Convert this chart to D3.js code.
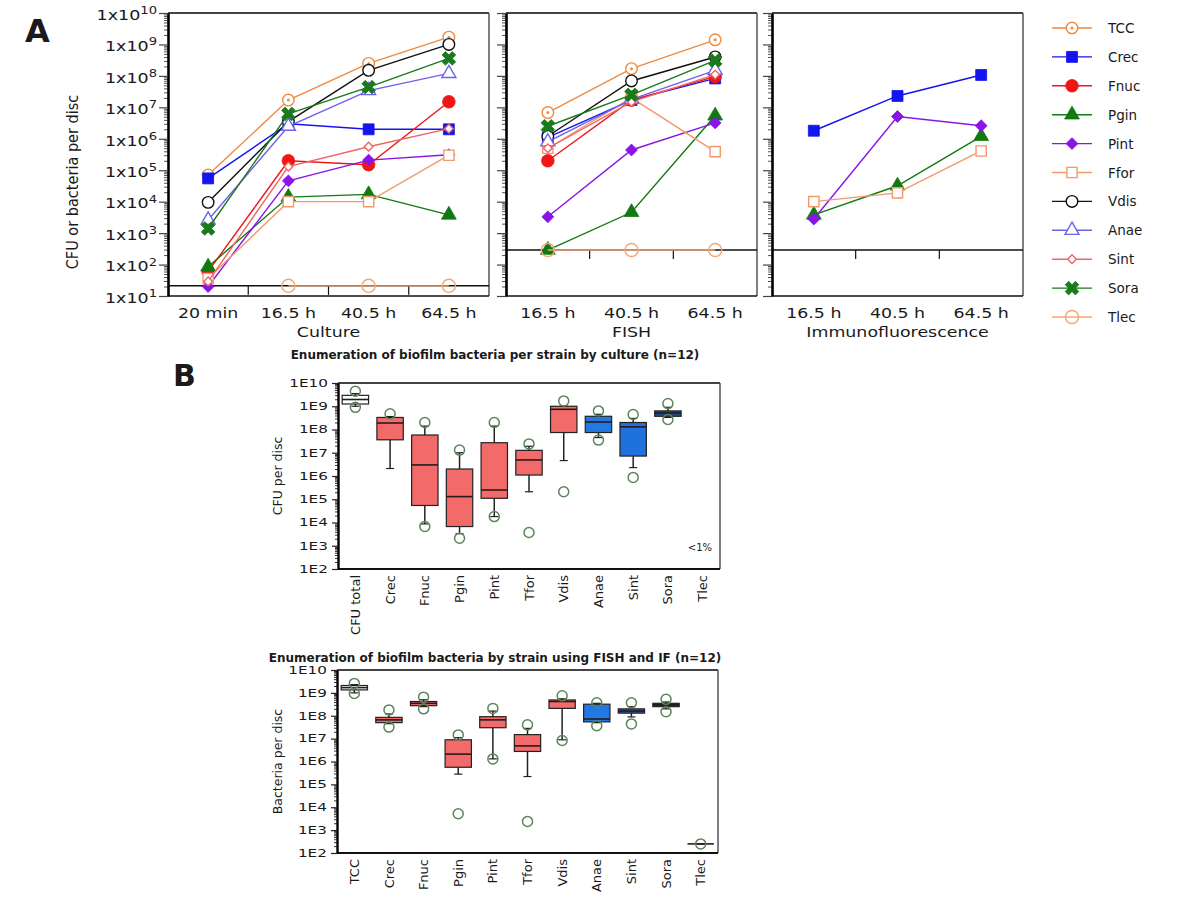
<!DOCTYPE html>
<html>
<head>
<meta charset="utf-8">
<script src="https://cdn.jsdelivr.net/npm/d3@7"></script>
<style>
  body { margin: 0; background: #fff; }
  svg { display: block; }
  text { font-family: 'DejaVu Sans', sans-serif; fill: #1a1a1a; }
</style>
</head>
<body>
<svg id="chart" width="1200" height="900"></svg>
<script>
// ---------- data, panel A ----------
const strains = ['TCC', 'Crec', 'Fnuc', 'Pgin', 'Pint', 'Ffor', 'Vdis', 'Anae', 'Sint', 'Sora', 'Tlec'];
const cultureTimes = ['20 min', '16.5 h', '40.5 h', '64.5 h'];
const laterTimes = ['16.5 h', '40.5 h', '64.5 h'];
const panelNames = ['Culture', 'FISH', 'Immunofluorescence'];

const cultureValues = {
  TCC:  [7e4, 1.7e7, 2.5e8, 1.7e9],
  Crec: [5.5e4, 3e6, 2e6, 2e6],
  Fnuc: [60, 2e5, 1.5e5, 1.5e7],
  Pgin: [85, 1.4e4, 1.7e4, 3.8e3],
  Pint: [20, 4.6e4, 2.1e5, 3.1e5],
  Ffor: [36, 1e4, 1e4, 3e5],
  Vdis: [9.5e3, 3.5e6, 1.5e8, 1e9],
  Anae: [2.6e3, 2.5e6, 3.4e7, 1.2e8],
  Sint: [29, 1.3e5, 5.6e5, 2.1e6],
  Sora: [1.4e3, 6.2e6, 4.4e7, 3.6e8],
  Tlec: [null, 21, 21, 21]
};

const fishValues = {
  TCC:  [6.8e6, 1.7e8, 1.4e9],
  Crec: [1.1e6, 1.7e7, 8.3e7],
  Fnuc: [2e5, 1.7e7, 9.5e7],
  Pgin: [290, 4.6e3, 5.4e6],
  Pint: [3.3e3, 4.4e5, 3.2e6],
  Ffor: [5e5, 2e7, 3.9e5],
  Vdis: [1.2e6, 6.9e7, 4e8],
  Anae: [8e5, 1.8e7, 1.5e8],
  Sint: [5e5, 1.5e7, 1.1e8],
  Sora: [2.5e6, 2.5e7, 3.1e8],
  Tlec: [290, 290, 290]
};

const ifValues = {
  Crec: [1.8e6, 2.3e7, 1.07e8],
  Pgin: [3.8e3, 3.2e4, 1.2e6],
  Pint: [2.8e3, 5.1e6, 2.6e6],
  Ffor: [1e4, 1.9e4, 4.1e5]
};

const detectionLimit = [21, 290, 290];

// ---------- data, panel B ----------
// stats are [low whisker, q1, median, q3, high whisker]
const cultureBoxLabels = ['CFU total', 'Crec', 'Fnuc', 'Pgin', 'Pint', 'Tfor', 'Vdis', 'Anae', 'Sint', 'Sora', 'Tlec'];
const cultureBoxStats = [
  [1.0e9, 1.25e9, 1.95e9, 2.95e9, 3.5e9],
  [2.1e6, 3.6e7, 1.9e8, 3.3e8, 3.6e8],
  [8.7e3, 5.4e4, 3.0e6, 5.8e7, 1.4e8],
  [3.3e3, 6.7e3, 1.3e5, 2.0e6, 1.0e7],
  [1.8e4, 1.1e5, 2.5e5, 2.7e7, 1.4e8],
  [2.1e5, 1.1e6, 4.9e6, 1.27e7, 1.9e7],
  [4.6e6, 7.4e7, 7.4e8, 1.0e9, 1.0e9],
  [4.5e7, 7.4e7, 2.1e8, 3.7e8, 4.5e8],
  [2.3e6, 7.2e6, 1.3e8, 2.0e8, 3.0e8],
  [3.3e8, 3.7e8, 5.1e8, 6.3e8, 9e8],
  null
];
const cultureBoxOutliers = [
  [4.4e9, 9e8], [4.7e8], [2.0e8, 6.7e3], [1.3e7, 2.1e3], [2.0e8, 1.8e4],
  [2.4e7, 3.7e3], [1.7e9, 2.1e5], [6.3e8, 3.5e7], [4.4e8, 8.7e5], [1.3e9, 2.7e8], []
];

const fishBoxLabels = ['TCC', 'Crec', 'Fnuc', 'Pgin', 'Pint', 'Tfor', 'Vdis', 'Anae', 'Sint', 'Sora', 'Tlec'];
const fishBoxStats = [
  [1.0e9, 1.35e9, 1.7e9, 2.1e9, 2.3e9],
  [4.5e7, 5.0e7, 6.6e7, 8.5e7, 1.2e8],
  [2.5e8, 2.75e8, 3.5e8, 4.2e8, 5e8],
  [2.8e5, 5.6e5, 2.1e6, 8.9e6, 1.1e7],
  [1.3e6, 3.0e7, 6.6e7, 9.1e7, 1.6e8],
  [2.2e5, 2.75e6, 4.8e6, 1.5e7, 2.8e7],
  [8.9e6, 2.1e8, 4.2e8, 4.9e8, 5.5e8],
  [5e7, 5.4e7, 7.2e7, 3.2e8, 3.5e8],
  [8.9e7, 1.3e8, 1.6e8, 2.0e8, 2.5e8],
  [2e8, 2.5e8, 3.0e8, 3.5e8, 4e8],
  [250, 250, 250, 250, 250]
];
const fishBoxOutliers = [
  [2.6e9, 9.5e8], [1.8e8, 3.2e7], [6.5e8, 2.0e8], [1.45e7, 5.2e3], [2.1e8, 1.3e6],
  [4.0e7, 2.4e3], [7.4e8, 8.3e6], [3.7e8, 3.7e7], [3.7e8, 4.4e7], [5.2e8, 1.5e8], [250]
];

// ---------- styles ----------
const seriesStyle = {
  TCC:  { color: '#ef8a3e', type: d3.symbolCircle,   size: 105, open: true, dot: true },
  Crec: { color: '#1414f0', type: d3.symbolSquare,   size: 120 },
  Fnuc: { color: '#f01616', type: d3.symbolCircle,   size: 125 },
  Pgin: { color: '#127812', type: d3.symbolTriangle, size: 95 },
  Pint: { color: '#8a14e6', type: d3.symbolSquare,   size: 70, rotate: 45 },
  Ffor: { color: '#f2996a', type: d3.symbolSquare,   size: 105, open: true },
  Vdis: { color: '#111111', type: d3.symbolCircle,   size: 105, open: true },
  Anae: { color: '#6c62ee', type: d3.symbolTriangle, size: 85, open: true },
  Sint: { color: '#f06464', type: d3.symbolSquare,   size: 38, rotate: 45, open: true },
  Sora: { color: '#1b7a1b', type: d3.symbolCross,    size: 115, rotate: 45 },
  Tlec: { color: '#f3a676', type: d3.symbolCircle,   size: 135, open: true, hollow: true }
};

const boxFillCulture = { 'CFU total': '#ffffff', Anae: '#2379e4', Sint: '#1f72de', Sora: '#284c86' };
const boxFillFish = { TCC: '#ffffff', Anae: '#1f7ae6', Sint: '#2a5caa', Sora: '#1d3b5c' };
const boxRed = '#f26a6a';

const svg = d3.select('#chart');

// text that the source squeezes wider than the font
function place(sel, x, y, sx, rot) {
  sel.attr('transform', `translate(${x},${y}) scale(${sx},1)` + (rot ? ` rotate(${rot})` : ''));
  return sel;
}

function decades(lo, hi) {
  return d3.range(Math.log10(lo), Math.log10(hi) + 1).map(e => Math.pow(10, e));
}
function minors(lo, hi) {
  let out = [];
  decades(lo, hi / 10).forEach(d => { for (let k = 2; k < 10; k++) out.push(d * k); });
  return out;
}

function drawMarker(g, name, x, y) {
  const s = seriesStyle[name];
  const m = g.append('path')
    .attr('d', d3.symbol().type(s.type).size(s.size)())
    .attr('transform', `translate(${x},${y})` + (s.rotate ? ` rotate(${s.rotate})` : ''))
    .attr('fill', s.open ? (s.hollow ? 'none' : '#fff') : s.color)
    .attr('stroke', s.color)
    .attr('stroke-width', s.open ? 1.4 : 0.8);
  if (s.dot) {
    g.append('circle').attr('cx', x).attr('cy', y).attr('r', 1.5).attr('fill', s.color);
  }
  return m;
}

// ---------- panel A ----------
const yA = d3.scaleLog().domain([10, 1e10]).range([296, 13]);

const panelsA = [
  { name: panelNames[0], x0: 168, x1: 489, times: cultureTimes, values: cultureValues, limit: detectionLimit[0], labels: true },
  { name: panelNames[1], x0: 506, x1: 757, times: laterTimes, values: fishValues, limit: detectionLimit[1] },
  { name: panelNames[2], x0: 772, x1: 1023, times: laterTimes, values: ifValues, limit: detectionLimit[2] }
];

panelsA.forEach(p => {
  const g = svg.append('g').attr('class', 'panelA');
  const x = d3.scalePoint().domain(p.times).range([p.x0, p.x1]).padding(0.5);

  // frame
  g.append('line').attr('x1', p.x0).attr('x2', p.x1).attr('y1', yA(1e10)).attr('y2', yA(1e10))
    .attr('stroke', '#444').attr('stroke-width', 2);
  g.append('line').attr('x1', p.x1).attr('x2', p.x1).attr('y1', yA(1e10)).attr('y2', yA(10))
    .attr('stroke', '#555').attr('stroke-width', 1.5);
  g.append('line').attr('x1', p.x0).attr('x2', p.x1).attr('y1', yA(10)).attr('y2', yA(10))
    .attr('stroke', '#111').attr('stroke-width', 1.5);

  // detection line, used as x axis
  const yl = yA(p.limit);
  g.append('line').attr('x1', p.x0).attr('x2', p.x1).attr('y1', yl).attr('y2', yl)
    .attr('stroke', '#111').attr('stroke-width', 1.5);
  p.times.slice(0, -1).forEach(t => {
    const xt = x(t) + x.step() / 2;
    g.append('line').attr('x1', xt).attr('x2', xt).attr('y1', yl).attr('y2', yl + 9)
      .attr('stroke', '#111').attr('stroke-width', 1.2);
  });

  // y axis
  const minorAxis = g.append('g').attr('transform', `translate(${p.x0},0)`)
    .call(d3.axisLeft(yA).tickValues(minors(10, 1e10)).tickSize(4).tickSizeOuter(0).tickFormat(''));
  minorAxis.select('.domain').remove();
  minorAxis.selectAll('.tick line').attr('stroke', '#555');

  const majorAxis = g.append('g').attr('transform', `translate(${p.x0},0)`)
    .call(d3.axisLeft(yA).tickValues(decades(10, 1e10)).tickSize(9).tickSizeOuter(0)
      .tickFormat(p.labels ? () => '1x10' : ''));
  majorAxis.select('.domain').attr('stroke', '#000').attr('stroke-width', 2.6);
  majorAxis.selectAll('.tick line').attr('stroke', '#444').attr('stroke-width', 1.2);
  if (p.labels) {
    majorAxis.attr('font-family', "'DejaVu Sans', sans-serif").attr('font-size', 14);
    majorAxis.selectAll('.tick text').attr('fill', '#1a1a1a').attr('dy', '0.45em')
      .attr('x', -11 / 1.25).attr('transform', 'scale(1.25,1)')
      .each(function(d) {
        d3.select(this).append('tspan')
          .attr('dy', '-0.55em')
          .attr('font-size', 10.5)
          .text(Math.round(Math.log10(d)));
      });
  }

  // x labels
  p.times.forEach(t => {
    place(g.append('text').attr('text-anchor', 'middle').attr('font-size', 14.5).text(t), x(t), 318, 1.2);
  });
  place(g.append('text').attr('text-anchor', 'middle').attr('font-size', 14.5).text(p.name),
    (p.x0 + p.x1) / 2, 337, 1.2);

  // series
  const line = d3.line().defined(d => d[1] != null).x(d => x(d[0])).y(d => yA(d[1]));
  strains.forEach(name => {
    const vals = p.values[name];
    if (!vals) return;
    const pts = p.times.map((t, i) => [t, vals[i]]);
    const s = seriesStyle[name];
    g.append('path').datum(pts).attr('d', line)
      .attr('fill', 'none').attr('stroke', s.color).attr('stroke-width', 1.4);
    pts.filter(d => d[1] != null).forEach(d => drawMarker(g, name, x(d[0]), yA(d[1])));
  });
});

// y title A
place(svg.append('text').attr('text-anchor', 'middle').attr('font-size', 14.5)
  .text('CFU or bacteria per disc'), 78, 182, 1.1, -90);

// panel letters
svg.append('text').attr('x', 25).attr('y', 42).attr('font-size', 32).attr('font-weight', 'bold')
  .attr('font-family', "'Liberation Sans', Arial, sans-serif").text('A');
svg.append('text').attr('x', 173).attr('y', 386).attr('font-size', 30).attr('font-weight', 'bold')
  .attr('font-family', "'Liberation Sans', Arial, sans-serif").text('B');

// legend
const legend = svg.append('g').attr('class', 'legend');
strains.forEach((name, i) => {
  const ly = 28 + i * 28.9;
  legend.append('line').attr('x1', 1052).attr('x2', 1092).attr('y1', ly).attr('y2', ly)
    .attr('stroke', seriesStyle[name].color).attr('stroke-width', 1.4);
  drawMarker(legend, name, 1072, ly);
  legend.append('text').attr('x', 1108).attr('y', ly + 5).attr('font-size', 13.5).text(name);
});

// ---------- panel B ----------
function boxPanel(cfg) {
  const g = svg.append('g');
  const y = d3.scaleLog().domain([100, 1e10]).range([cfg.bottom, cfg.top]);
  const x = d3.scaleBand().domain(cfg.labels).range([cfg.x0, cfg.x1]).paddingInner(0.24).paddingOuter(0.12);
  const font = "'Liberation Sans', Arial, sans-serif";

  // title
  g.append('text').attr('x', 495).attr('y', cfg.titleY).attr('text-anchor', 'middle')
    .attr('font-family', font).attr('font-weight', 'bold').attr('font-size', 12).text(cfg.title);

  // frame
  g.append('line').attr('x1', cfg.x0).attr('x2', cfg.x1).attr('y1', y(1e10)).attr('y2', y(1e10))
    .attr('stroke', '#444').attr('stroke-width', 2);
  g.append('line').attr('x1', cfg.x1).attr('x2', cfg.x1).attr('y1', y(1e10)).attr('y2', y(100))
    .attr('stroke', '#555').attr('stroke-width', 1.5);
  g.append('line').attr('x1', cfg.x0).attr('x2', cfg.x1).attr('y1', y(100)).attr('y2', y(100))
    .attr('stroke', '#111').attr('stroke-width', 2);

  const minorAxis = g.append('g').attr('transform', `translate(${cfg.x0},0)`)
    .call(d3.axisLeft(y).tickValues(minors(100, 1e10)).tickSize(3).tickSizeOuter(0).tickFormat(''));
  minorAxis.select('.domain').remove();
  minorAxis.selectAll('.tick line').attr('stroke', '#333');
  const majorAxis = g.append('g').attr('transform', `translate(${cfg.x0},0)`)
    .call(d3.axisLeft(y).tickValues(decades(100, 1e10)).tickSize(6).tickSizeOuter(0)
      .tickFormat(d => '1E' + Math.round(Math.log10(d))));
  majorAxis.select('.domain').attr('stroke', '#000').attr('stroke-width', 2.4);
  majorAxis.selectAll('.tick line').attr('stroke', '#222').attr('stroke-width', 1.2);
  majorAxis.attr('font-family', font).attr('font-size', 10.5);
  majorAxis.selectAll('.tick text').attr('fill', '#1a1a1a').attr('x', -7).attr('transform', 'scale(1.45,1)');

  // y title
  place(g.append('text').attr('text-anchor', 'middle').attr('font-family', font).attr('font-size', 12.5)
    .text(cfg.yTitle), cfg.yTitleX, (cfg.top + cfg.bottom) / 2, 1, -90);

  // x labels
  cfg.labels.forEach(l => {
    place(g.append('text').attr('text-anchor', 'end').attr('dy', '0.35em').attr('font-family', font)
      .attr('font-size', 13).text(l), x(l) + x.bandwidth() / 2, cfg.bottom + 6, 1, -90);
  });

  // boxes
  const w = x.bandwidth();
  cfg.labels.forEach((l, i) => {
    const st = cfg.stats[i];
    const cx = x(l) + w / 2;
    if (st) {
      const [lo, q1, med, q3, hi] = st;
      g.append('line').attr('x1', cx).attr('x2', cx).attr('y1', y(lo)).attr('y2', y(hi))
        .attr('stroke', '#222').attr('stroke-width', 1.5);
      [lo, hi].forEach(v => g.append('line').attr('x1', cx - 4).attr('x2', cx + 4)
        .attr('y1', y(v)).attr('y2', y(v)).attr('stroke', '#222').attr('stroke-width', 1.2));
      if (q3 > q1) {
        g.append('rect').attr('x', x(l)).attr('y', y(q3)).attr('width', w).attr('height', y(q1) - y(q3))
          .attr('fill', cfg.fills[l] || boxRed).attr('stroke', '#222').attr('stroke-width', 1.2);
      }
      g.append('line').attr('x1', x(l)).attr('x2', x(l) + w).attr('y1', y(med)).attr('y2', y(med))
        .attr('stroke', '#2a1a1a').attr('stroke-width', 1.6);
    }
    cfg.outliers[i].forEach(v => {
      g.append('circle').attr('cx', cx).attr('cy', y(v)).attr('r', 5)
        .attr('fill', 'none').attr('stroke', '#5b865b').attr('stroke-width', 1.5);
    });
  });

  if (cfg.note) {
    g.append('text').attr('x', cfg.x1 - 8).attr('y', y(cfg.note.value)).attr('text-anchor', 'end')
      .attr('font-family', font).attr('font-size', 10).text(cfg.note.text);
  }
}

boxPanel({
  title: 'Enumeration of biofilm bacteria per strain by culture (n=12)', titleY: 359,
  yTitle: 'CFU per disc', yTitleX: 282,
  labels: cultureBoxLabels, stats: cultureBoxStats, outliers: cultureBoxOutliers, fills: boxFillCulture,
  x0: 338, x1: 720, top: 383, bottom: 569,
  note: { text: '<1%', value: 600 }
});

boxPanel({
  title: 'Enumeration of biofilm bacteria by strain using FISH and IF (n=12)', titleY: 662,
  yTitle: 'Bacteria per disc', yTitleX: 282,
  labels: fishBoxLabels, stats: fishBoxStats, outliers: fishBoxOutliers, fills: boxFillFish,
  x0: 337, x1: 718, top: 670, bottom: 853
});
</script>
</body>
</html>
